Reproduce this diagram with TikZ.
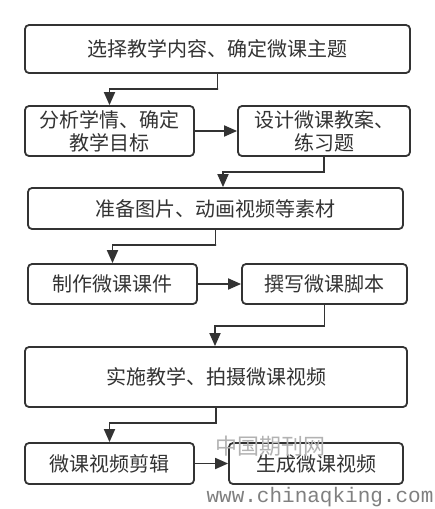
\documentclass[tikz,border=0pt]{standalone}
\usepackage{fontspec}
\setmainfont{Liberation Sans}
\newfontfamily\cjk{Noto Sans CJK SC}
\newfontfamily\wmono{Liberation Mono}
\usetikzlibrary{arrows.meta}
\definecolor{ink}{HTML}{333333}
\begin{document}
\begin{tikzpicture}[x=1pt,y=-1pt,
  box/.style={draw=ink,line width=1.8pt,rounded corners=4pt,inner sep=0pt,
    align=center,text=ink,font=\cjk\fontsize{20}{23}\selectfont},
  arr/.style={draw=ink,line width=1.8pt,-{Triangle[length=13pt,width=11pt]}},
  wm/.style={inner sep=0pt}]
\useasboundingbox (0,0) rectangle (435,509);
\fill[white] (0,0) rectangle (435,509);
\node[box,minimum width=385pt,minimum height=48pt] (b1) at (217.5,49) {选择教学内容、确定微课主题};
\node[box,minimum width=169pt,minimum height=50pt] (b2) at (109.5,131) {分析学情、确定\\教学目标};
\node[box,minimum width=172pt,minimum height=50pt] (b3) at (324,131) {设计微课教案、\\练习题};
\node[box,minimum width=375pt,minimum height=41pt] (b4) at (215.5,208.5) {准备图片、动画视频等素材};
\node[box,minimum width=169pt,minimum height=40pt] (b5) at (112.5,284) {制作微课课件};
\node[box,minimum width=165pt,minimum height=40pt] (b6) at (324.5,284) {撰写微课脚本};
\node[box,minimum width=382pt,minimum height=60pt] (b7) at (216,377) {实施教学、拍摄微课视频};
\node[box,minimum width=169pt,minimum height=41pt] (b8) at (109.5,463.5) {微课视频剪辑};
\node[box,minimum width=174pt,minimum height=41pt] (b9) at (316,463.5) {生成微课视频};
\coordinate (k1) at (218,89);
\coordinate (k2) at (223,172);
\coordinate (k3) at (216,245);
\coordinate (k4) at (215,326);
\coordinate (k5) at (216,423);
\draw[arr] (b1.south) |- (k1) -| (b2.north);
\draw[arr] (b2.east) -- (b3.west);
\draw[arr] (b3.south) |- (k2) -- (k2 |- b4.north);
\draw[arr] (b4.south) |- (k3) -| (b5.north);
\draw[arr] (b5.east) -- (b6.west);
\draw[arr] (b6.south) |- (k4) -- (k4 |- b7.north);
\draw[arr] (b7.south) |- (k5) -| (b8.north);
\draw[arr] (b8.east) -- (b9.west);
\node[wm,text=black!30,font=\cjk\fontsize{22}{22}\selectfont] (w1) at (270,446) {中国期刊网};
\node[wm,text=black!50,font=\wmono\fontsize{21}{21}\selectfont] (w2) at (320,497) {www.chinaqking.com};
\end{tikzpicture}
\end{document}
